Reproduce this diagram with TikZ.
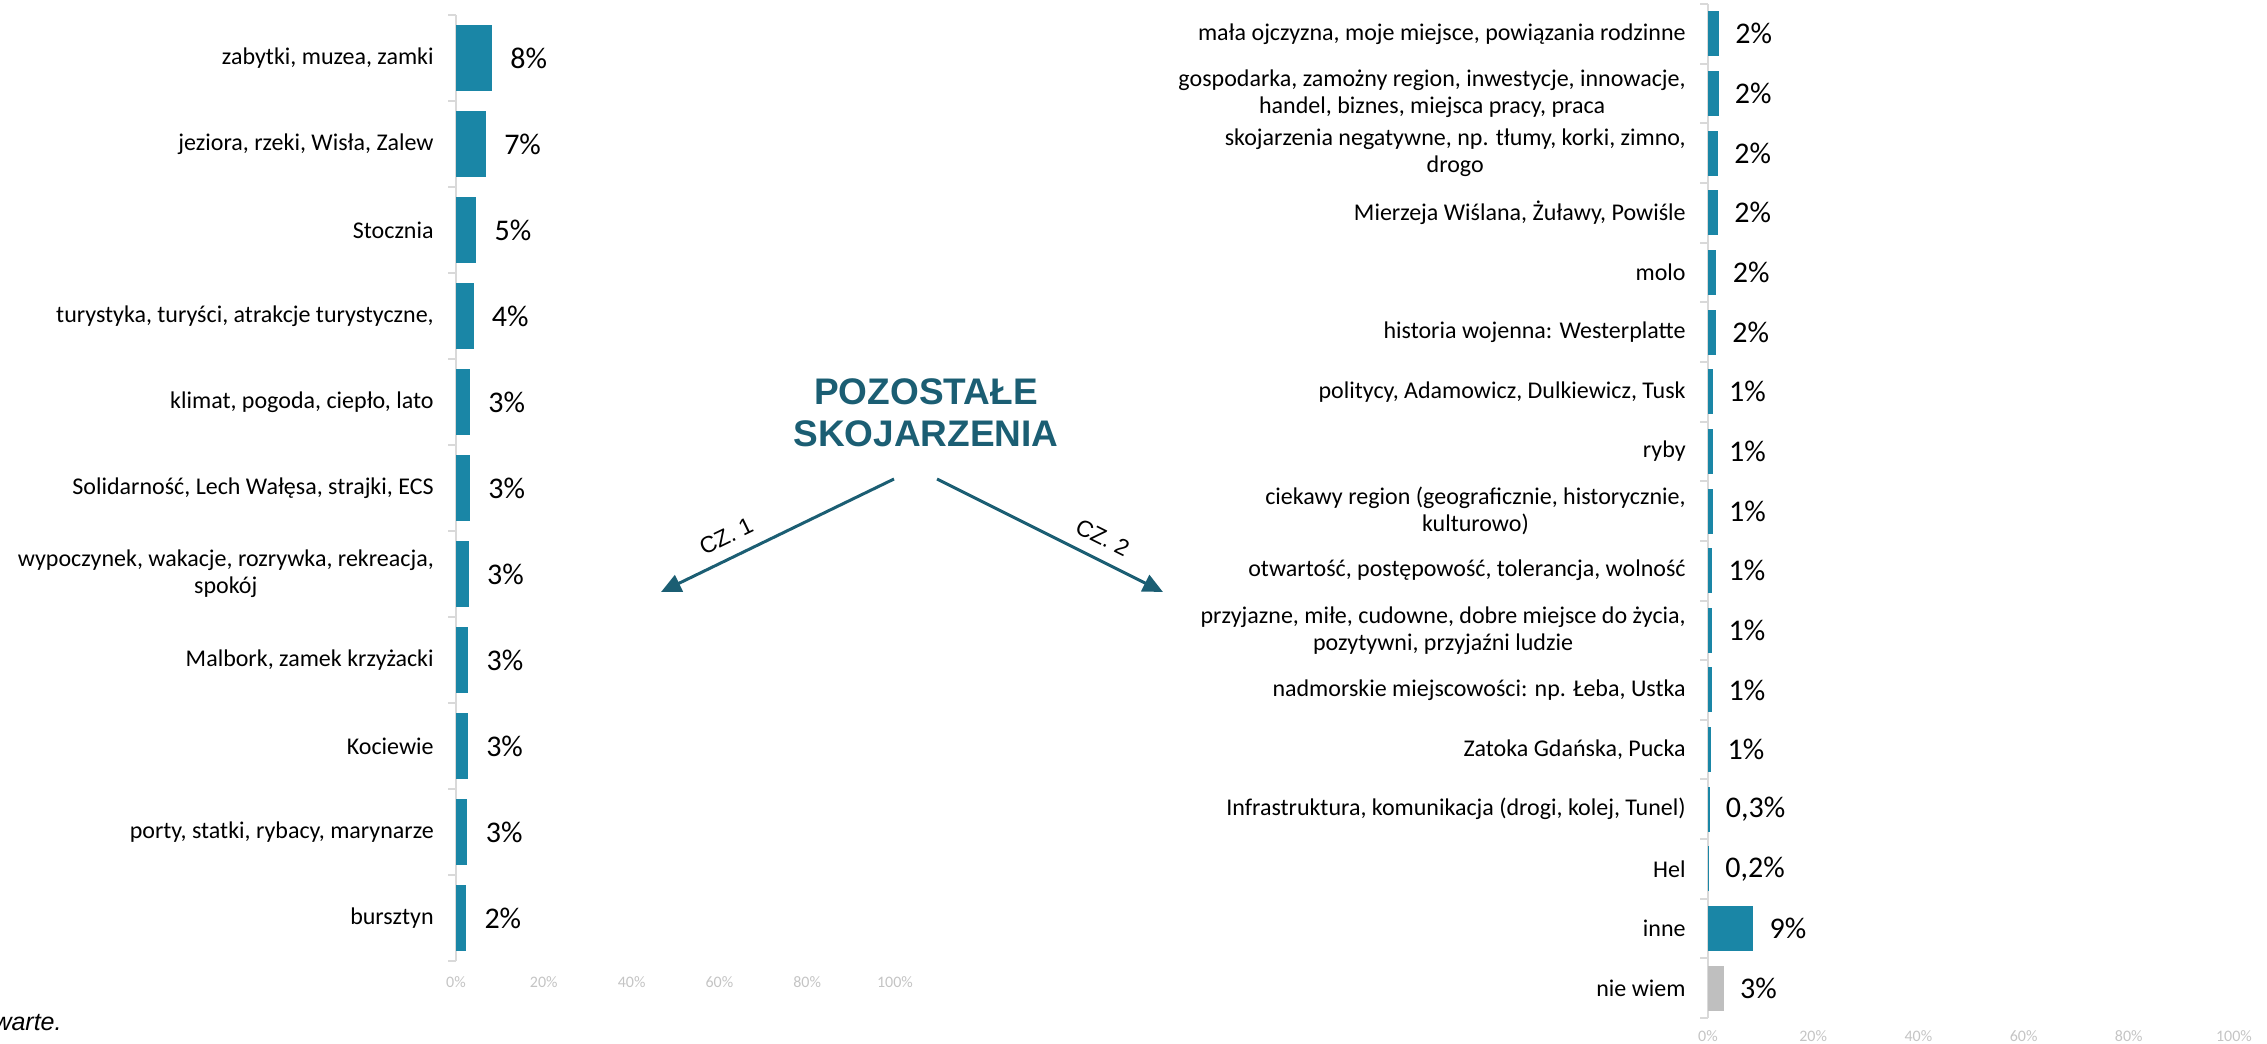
\documentclass[tikz,border=0pt]{standalone}
\usepackage{fontspec}
\setmainfont{Carlito}
\newfontfamily\arialfont{Liberation Sans}
\usetikzlibrary{arrows.meta}

\definecolor{barblue}{RGB}{26,134,166}
\definecolor{nwgray}{RGB}{191,191,191}
\definecolor{titleteal}{RGB}{27,94,115}
\definecolor{axisgray}{RGB}{217,217,217}
\definecolor{ticktext}{RGB}{196,196,196}

\begin{document}
\begin{tikzpicture}[x=0.5pt, y=-0.5pt,
    lbl/.style={anchor=east, inner sep=0pt, align=center, font=\fontsize{12}{13.5}\selectfont},
    val/.style={anchor=west, inner sep=0pt, font=\fontsize{15}{18}\selectfont},
    tick/.style={inner sep=0pt, text=ticktext, font=\fontsize{8}{9}\selectfont},
    axis/.style={draw=axisgray, line width=1.25pt},
    part/.style={draw=titleteal, line width=1.5pt, -{Triangle[length=10pt,width=9pt]}}]

    \useasboundingbox (0,0) rectangle (2267,1044);

        % Left chart (cz. 1)
        \draw[axis] (456,15) -- (456,961);
        \foreach \k in {0,...,11} {
            \draw[axis, line width=1pt] (448,15+86*\k) -- (456,15+86*\k);
        }
        \foreach \i/\txt/\v/\p in {1/{zabytki, muzea, zamki}/8.2/8,
                2/{jeziora, rzeki, Wisła, Zalew}/6.8/7,
                3/Stocznia/4.6/5,
                4/{turystyka, turyści, atrakcje turystyczne,}/4.0/4,
                5/{klimat, pogoda, ciepło, lato}/3.2/3,
                6/{Solidarność, Lech Wałęsa, strajki, ECS}/3.2/3,
                7/{wypoczynek, wakacje, rozrywka, rekreacja,\\spokój}/2.9/3,
                8/{Malbork, zamek krzyżacki}/2.8/3,
                9/Kociewie/2.7/3,
                10/{porty, statki, rybacy, marynarze}/2.6/3,
                11/bursztyn/2.3/2} {
            \pgfmathsetmacro{\yc}{58+86*(\i-1)}
            \fill[barblue] (456,\yc-33) rectangle ++(4.39*\v,66);
            \node[lbl] (left\i) at (434,\yc) {\txt};
            \node[val] (leftval\i) at (456+4.39*\v+18,\yc) {\p\%};
        }
        \foreach \k [evaluate=\k as \t using int(20*\k)] in {0,...,5} {
            \node[tick] (lefttick\k) at (456+87.8*\k,982) {\t\%};
        }

        % Right chart (cz. 2)
        \draw[axis] (1708,4) -- (1708,1018);
        \foreach \k in {0,...,17} {
            \draw[axis, line width=1pt] (1700,4+59.65*\k) -- (1708,4+59.65*\k);
        }
        \foreach \i/\txt/\v/\p/\c in {1/{mała ojczyzna, moje miejsce, powiązania rodzinne}/2.1/2/barblue,
                2/{gospodarka, zamożny region, inwestycje, innowacje,\\handel, biznes, miejsca pracy, praca}/2.0/2/barblue,
                3/{skojarzenia negatywne, np. tłumy, korki, zimno,\\drogo}/1.9/2/barblue,
                4/{Mierzeja Wiślana, Żuławy, Powiśle}/1.9/2/barblue,
                5/molo/1.6/2/barblue,
                6/{historia wojenna: Westerplatte}/1.5/2/barblue,
                7/{politycy, Adamowicz, Dulkiewicz, Tusk}/0.9/1/barblue,
                8/ryby/0.9/1/barblue,
                9/{ciekawy region (geograficznie, historycznie,\\kulturowo)}/0.9/1/barblue,
                10/{otwartość, postępowość, tolerancja, wolność}/0.8/1/barblue,
                11/{przyjazne, miłe, cudowne, dobre miejsce do życia,\\pozytywni, przyjaźni ludzie}/0.8/1/barblue,
                12/{nadmorskie miejscowości: np. Łeba, Ustka}/0.8/1/barblue,
                13/{Zatoka Gdańska, Pucka}/0.6/1/barblue,
                14/{Infrastruktura, komunikacja (drogi, kolej, Tunel)}/0.3/{0,3}/barblue,
                15/Hel/0.2/{0,2}/barblue,
                16/inne/8.6/9/barblue,
                17/{nie wiem}/3.0/3/nwgray} {
            \pgfmathsetmacro{\yc}{33.8+59.65*(\i-1)}
            \fill[\c] (1708,\yc-22.5) rectangle ++(5.26*\v,45);
            \node[lbl] (right\i) at (1686,\yc) {\txt};
            \node[val] (rightval\i) at (1708+5.26*\v+16,\yc) {\p\%};
        }
        \foreach \k [evaluate=\k as \t using int(20*\k)] in {0,...,5} {
            \node[tick] (righttick\k) at (1708+105.2*\k,1036) {\t\%};
        }

        % Title and the two parts
        \node[align=center, text=titleteal, font=\arialfont\bfseries\fontsize{18.5}{21}\selectfont] (title) at (926,413) {POZOSTAŁE\\SKOJARZENIA};
        \coordinate (part1from) at (894,479);
        \coordinate (part1to) at (661,592);
        \coordinate (part2from) at (937,479);
        \coordinate (part2to) at (1163,592);
        \draw[part] (part1from) -- (part1to) node[pos=0.68, sloped, above=6pt, inner sep=0pt, font=\arialfont\fontsize{11.5}{13}\selectfont] (cz1) {CZ. 1};
        \draw[part] (part2from) -- (part2to) node[pos=0.69, sloped, above=6pt, inner sep=0pt, font=\arialfont\fontsize{11.5}{13}\selectfont] (cz2) {CZ. 2};

        % Note, cut at the left edge
        \node[anchor=east, inner sep=0pt, font=\arialfont\itshape\fontsize{12.5}{15}\selectfont] (note) at (62,1023) {warte.};

\end{tikzpicture}
\end{document}
